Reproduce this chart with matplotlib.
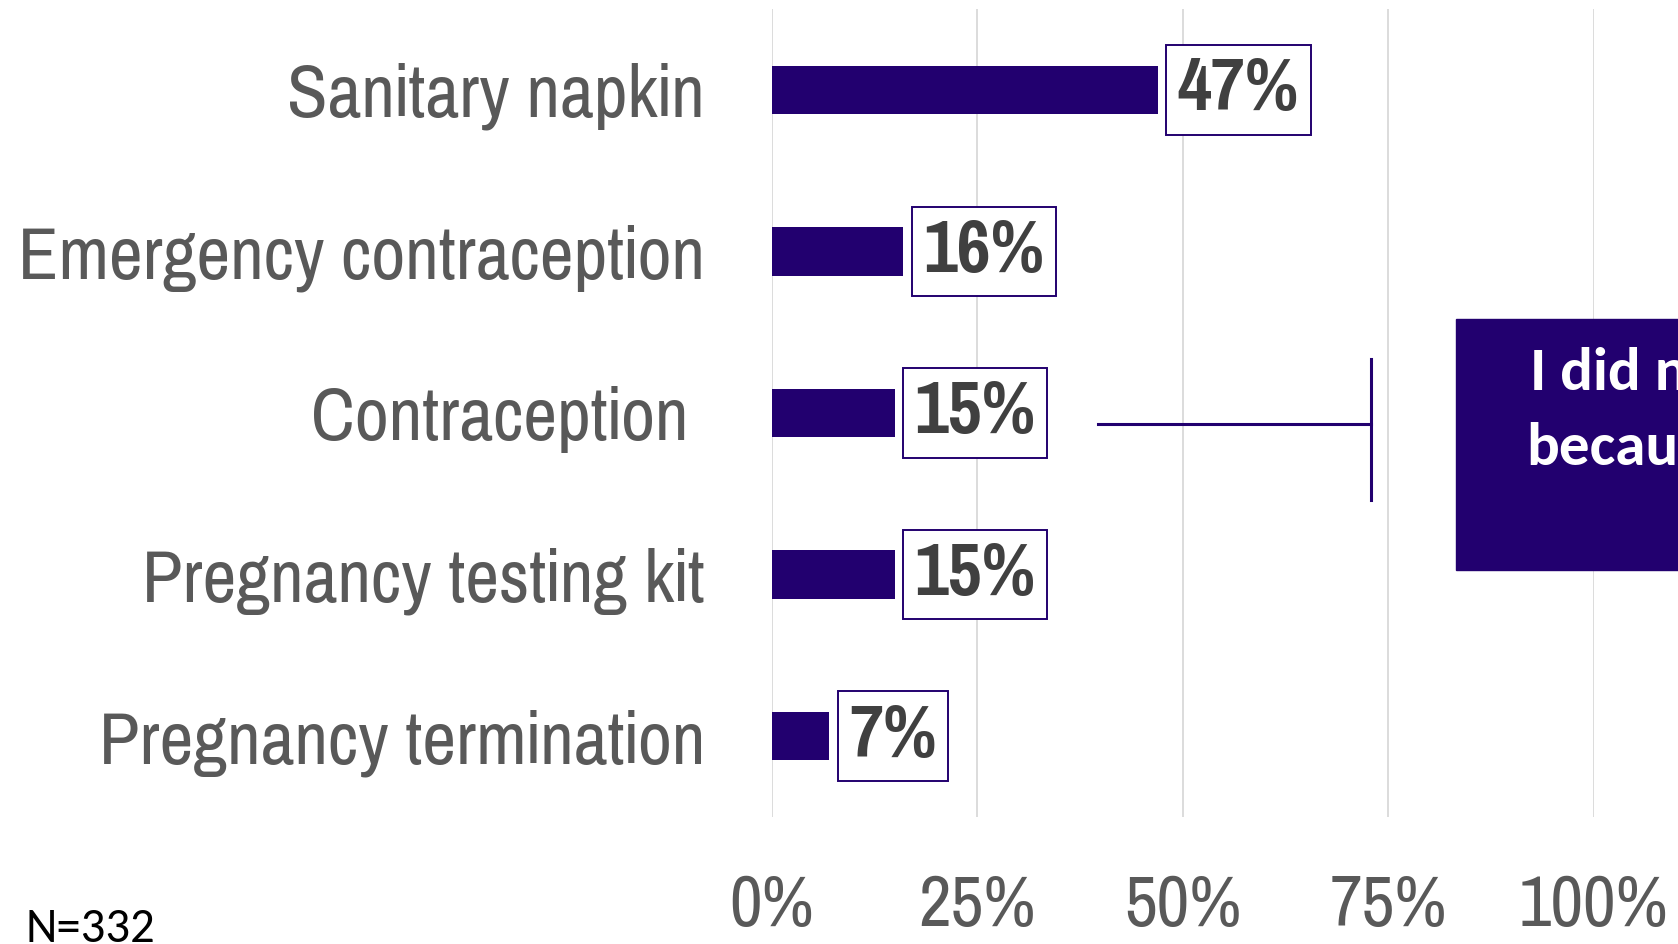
import matplotlib
matplotlib.use("Agg")
import matplotlib.pyplot as plt

categories = ["Sanitary napkin", "Emergency contraception", "Contraception ",
              "Pregnancy testing kit", "Pregnancy termination"]
values = [47, 16, 15, 15, 7]
xticks = [0, 25, 50, 75, 100]
xtick_labels = ["0%", "25%", "50%", "75%", "100%"]

purple = "#22006f"
narrow = ["Pragati Narrow", "Liberation Sans", "DejaVu Sans"]
calibri = ["Carlito", "Open Sans", "DejaVu Sans"]

W, H = 1678, 944
fig = plt.figure(figsize=(W / 100, H / 100), dpi=100)
ax = fig.add_axes([771.6 / W, 1 - 817 / H, 822 / W, 808 / H])

y = list(range(len(categories)))
ax.barh(y, values, height=0.30, color=purple, zorder=3)
ax.set_ylim(len(categories) - 0.5, -0.5)
ax.set_xlim(0, 100)

# value labels in framed boxes
for yi, v in zip(y, values):
    ax.text(v + 2.4, yi, f"{v}%", va="center", ha="left", fontsize=58,
            fontweight="bold", family=narrow, color="#404040", zorder=4,
            bbox=dict(boxstyle="square,pad=0.14", fc="white", ec=purple, lw=1.4))

ax.set_yticks(y)
ax.set_yticklabels(categories, family=narrow, fontsize=58, color="#595959")
ax.set_xticks(xticks)
ax.set_xticklabels(xtick_labels, family=narrow, fontsize=56, color="#595959")
ax.tick_params(axis="y", length=0, pad=48)
ax.tick_params(axis="x", length=0, pad=41)
ax.grid(axis="x", color="#d9d9d9", lw=1.3, zorder=0)
for s in ax.spines.values():
    s.set_visible(False)

# callout box on the right, cut off by the page edge
fig.add_artist(plt.Rectangle((1455.5 / W, 1 - 570 / H), 0.2, (570 - 319) / H,
                             transform=fig.transFigure, color=purple, zorder=5))
fig.text(1530 / W, 1 - 389.5 / H, "I did not", color="white", fontsize=44,
         fontweight="bold", family=calibri, va="baseline", zorder=6)
fig.text(1526 / W, 1 - 464.5 / H, "because", color="white", fontsize=44,
         fontweight="bold", family=calibri, va="baseline", zorder=6)

# bracket line pointing to the box
fig.add_artist(plt.Line2D([1098 / W, 1371 / W], [1 - 424 / H, 1 - 424 / H],
                          transform=fig.transFigure, color=purple, lw=2.2))
fig.add_artist(plt.Line2D([1371 / W, 1371 / W], [1 - 358.5 / H, 1 - 500 / H],
                          transform=fig.transFigure, color=purple, lw=2.2))

fig.text(25.7 / W, 1 - 942 / H, "N=332", fontsize=35, family=calibri,
         color="black", va="baseline")

fig.savefig("out.png", dpi=100)
